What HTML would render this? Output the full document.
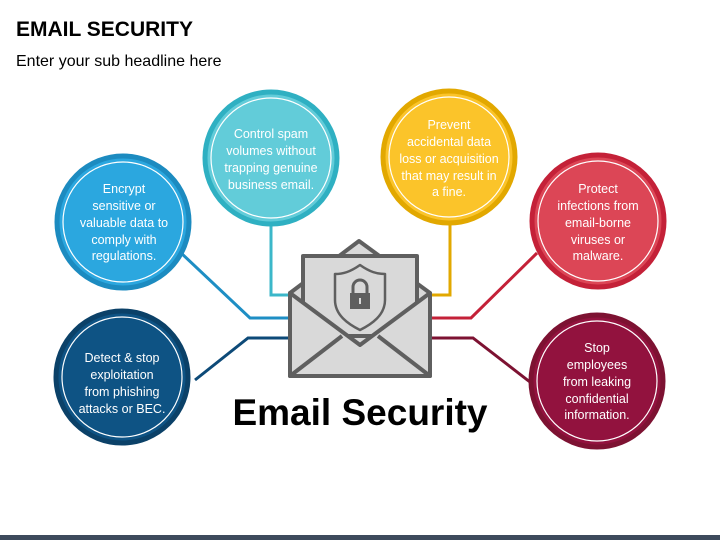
<!DOCTYPE html>
<html><head><meta charset="utf-8"><style>
body{margin:0;width:720px;height:540px;overflow:hidden;background:#fff;font-family:"Liberation Sans",sans-serif;}
svg{display:block}
</style></head><body>
<svg width="720" height="540" viewBox="0 0 720 540" xmlns="http://www.w3.org/2000/svg">
<text x="16" y="36" font-size="21" font-weight="bold" fill="#000" font-family="Liberation Sans">EMAIL SECURITY</text>
<text x="16" y="66" font-size="16" fill="#000" font-family="Liberation Sans">Enter your sub headline here</text>

<g fill="none" stroke-width="3">
<polyline points="271,226 271,295 292,295" stroke="#3bb7c9"/>
<polyline points="180,252 250,318 292,318" stroke="#1e8ec4"/>
<polyline points="195,380 248,338 292,338" stroke="#0d4a78"/>
<polyline points="450,224 450,295 430,295" stroke="#e2a800"/>
<polyline points="537,253 471,318 430,318" stroke="#c42138"/>
<polyline points="530,382 473,338 430,338" stroke="#7d1232"/>
</g>

<g font-family="Liberation Sans" font-size="12.5" fill="#fff" text-anchor="middle">
<circle cx="271" cy="158" r="66" fill="#62ccd9" stroke="#2fb0c2" stroke-width="5"/>
<circle cx="271" cy="158" r="60" fill="none" stroke="#fff" stroke-width="1.2"/>
<text x="271" y="138">Control spam</text><text x="271" y="155">volumes without</text><text x="271" y="172">trapping genuine</text><text x="271" y="189">business email.</text>

<circle cx="449" cy="157" r="66" fill="#fbc42a" stroke="#e2a800" stroke-width="5"/>
<circle cx="449" cy="157" r="60" fill="none" stroke="#fff" stroke-width="1.2"/>
<text x="449" y="129">Prevent</text><text x="449" y="146">accidental data</text><text x="449" y="163">loss or acquisition</text><text x="449" y="180">that may result in</text><text x="449" y="196">a fine.</text>

<circle cx="123" cy="222" r="66" fill="#2ba7df" stroke="#1c8bc0" stroke-width="5"/>
<circle cx="123" cy="222" r="60" fill="none" stroke="#fff" stroke-width="1.2"/>
<text x="124" y="193">Encrypt</text><text x="124" y="210">sensitive or</text><text x="124" y="227">valuable data to</text><text x="124" y="244">comply with</text><text x="124" y="260">regulations.</text>

<circle cx="122" cy="377" r="66" fill="#0e5384" stroke="#0b4168" stroke-width="5"/>
<circle cx="122" cy="377" r="60" fill="none" stroke="#fff" stroke-width="1.2"/>
<text x="122" y="362">Detect &amp; stop</text><text x="122" y="379">exploitation</text><text x="122" y="396">from phishing</text><text x="122" y="413">attacks or BEC.</text>

<circle cx="598" cy="221" r="66" fill="#dc4656" stroke="#c42138" stroke-width="5"/>
<circle cx="598" cy="221" r="60" fill="none" stroke="#fff" stroke-width="1.2"/>
<text x="598" y="193">Protect</text><text x="598" y="210">infections from</text><text x="598" y="227">email-borne</text><text x="598" y="244">viruses or</text><text x="598" y="260">malware.</text>

<circle cx="597" cy="381" r="66" fill="#92123e" stroke="#7d1232" stroke-width="5"/>
<circle cx="597" cy="381" r="60" fill="none" stroke="#fff" stroke-width="1.2"/>
<text x="597" y="352">Stop</text><text x="597" y="369">employees</text><text x="597" y="386">from leaking</text><text x="597" y="403">confidential</text><text x="597" y="419">information.</text>
</g>

<g stroke="#5f5f5f" stroke-width="4" stroke-linejoin="round" fill="#d9d9d9">
<polygon points="290,293 359,241 430,293 430,376 290,376"/>
<rect x="303" y="256" width="114" height="80"/>
<polygon points="290,293 360,345 430,293 430,376 290,376"/>
<polyline points="290,376 342,336" fill="none"/>
<polyline points="430,376 378,336" fill="none"/>
<path d="M360,265 C350,272 343,274 335,274 L335,300 C335,315 348,324 360,330 C372,324 385,315 385,300 L385,274 C377,274 370,272 360,265Z" stroke-width="2.5" fill="#d9d9d9"/>
</g>
<rect x="350" y="293" width="20" height="16" fill="#5f5f5f"/>
<path d="M353,293 v-6 a7,7 0 0 1 14,0 v6" fill="none" stroke="#5f5f5f" stroke-width="3"/>
<rect x="359" y="298" width="2" height="6" fill="#d9d9d9"/>

<text x="360" y="425" font-family="Liberation Sans" font-size="37" font-weight="bold" text-anchor="middle" fill="#000">Email Security</text>
<rect x="0" y="535" width="720" height="5" fill="#3d4a5c"/>
</svg>
</body></html>
